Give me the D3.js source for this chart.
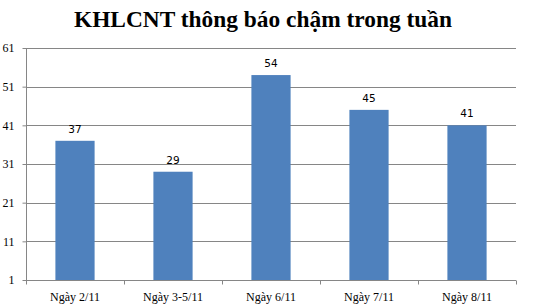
<!DOCTYPE html>
<html>
<head>
<meta charset="utf-8">
<script src="https://cdn.jsdelivr.net/npm/d3@7"></script>
<style>
  body { margin: 0; background: #fff; }
  svg { display: block; }
</style>
</head>
<body>
<svg id="chart" width="535" height="308"></svg>
<script>
var categories = ["Ngày 2/11", "Ngày 3-5/11", "Ngày 6/11", "Ngày 7/11", "Ngày 8/11"];
var values = [37, 29, 54, 45, 41];
var yTicks = [1, 11, 21, 31, 41, 51, 61];
var title = "KHLCNT thông báo chậm trong tuần";

var plotLeft = 26, plotRight = 516, plotTop = 48, plotBottom = 280;

var svg = d3.select("#chart");

var xScale = d3.scaleBand()
    .domain(categories)
    .range([plotLeft, plotRight])
    .paddingInner(0.6)
    .paddingOuter(0.3);

var yScale = d3.scaleLinear()
    .domain([1, 61])
    .range([plotBottom, plotTop]);

// title
svg.append("text")
   .attr("x", 263)
   .attr("y", 27)
   .attr("text-anchor", "middle")
   .style("font-family", "'Liberation Serif', 'Times New Roman', serif")
   .style("font-weight", "bold")
   .style("font-size", "23.4px")
   .attr("fill", "#000")
   .text(title);

// gridlines
svg.append("g")
   .selectAll("line")
   .data(yTicks.slice(1))
   .enter()
   .append("line")
   .attr("x1", plotLeft)
   .attr("x2", plotRight)
   .attr("y1", function(d) { return Math.round(yScale(d)) + 0.5; })
   .attr("y2", function(d) { return Math.round(yScale(d)) + 0.5; })
   .attr("stroke", "#868686")
   .attr("stroke-width", 1);

// bars
svg.selectAll("rect.bar")
   .data(values)
   .enter()
   .append("rect")
   .attr("class", "bar")
   .attr("x", function(d, i) { return xScale(categories[i]); })
   .attr("y", function(d) { return yScale(d); })
   .attr("width", xScale.bandwidth())
   .attr("height", function(d) { return yScale(1) - yScale(d); })
   .attr("fill", "#4F81BD");

// data labels
svg.selectAll("text.lbl")
   .data(values)
   .enter()
   .append("text")
   .attr("class", "lbl")
   .attr("x", function(d, i) { return xScale(categories[i]) + xScale.bandwidth() / 2; })
   .attr("y", function(d) { return yScale(d) - 8; })
   .attr("text-anchor", "middle")
   .style("font-family", "'DejaVu Sans', Tahoma, sans-serif")
   .style("font-size", "10.5px")
   .attr("fill", "#000")
   .text(function(d) { return d; });

// y axis
var yAxis = d3.axisLeft(yScale)
    .tickValues(yTicks)
    .tickSize(4)
    .tickPadding(8);

var gy = svg.append("g")
   .attr("transform", "translate(" + (plotLeft + 0.5) + ",0)")
   .call(yAxis);

// x axis
var xAxis = d3.axisBottom(xScale).tickSize(0).tickPadding(12);

var gx = svg.append("g")
   .attr("transform", "translate(0," + (plotBottom + 0.5) + ")")
   .call(xAxis);

// category boundary ticks like the original
var bounds = d3.range(categories.length + 1).map(function(i) {
    return plotLeft + i * (plotRight - plotLeft) / categories.length;
});
gx.selectAll("line.bound")
   .data(bounds)
   .enter()
   .append("line")
   .attr("class", "bound")
   .attr("x1", function(d) { return Math.round(d) + 0.5; })
   .attr("x2", function(d) { return Math.round(d) + 0.5; })
   .attr("y1", 0)
   .attr("y2", 4)
   .attr("stroke", "#868686");

[gx, gy].forEach(function(g) {
    g.select(".domain").attr("stroke", "#868686");
    g.selectAll(".tick line").attr("stroke", "#868686");
    g.selectAll("text")
     .style("font-family", "'Liberation Serif', 'Times New Roman', serif")
     .style("font-size", "12px")
     .attr("fill", "#000");
});
gy.select(".domain").attr("d", "M0," + plotTop + "V" + plotBottom);
gx.select(".domain").attr("d", "M" + plotLeft + ",0H" + plotRight);
</script>
</body>
</html>
